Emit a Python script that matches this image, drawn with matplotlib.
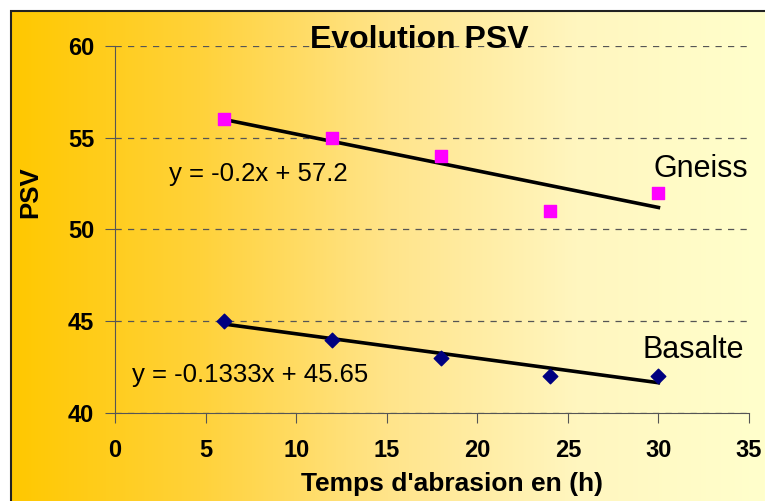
import numpy as np
import matplotlib
matplotlib.use("Agg")
import matplotlib.pyplot as plt
from matplotlib.colors import LinearSegmentedColormap
from matplotlib.patches import Rectangle

plt.rcParams['font.family'] = ['Liberation Sans', 'DejaVu Sans']

hours = [6, 12, 18, 24, 30]
gneiss = [56, 55, 54, 51, 52]
basalte = [45, 44, 43, 42, 42]
gneiss_fit = (-0.2, 57.2)
basalte_fit = (-0.1333, 45.65)

W, H = 765, 501
fig = plt.figure(figsize=(W / 100, H / 100), dpi=100)

# gradient background with frame
bg = fig.add_axes([11 / W, 0, 1 - 11 / W, 1 - 11 / H])
cmap = LinearSegmentedColormap.from_list("bg", ["#ffc800", "#ffd23a", "#ffe48a", "#fff6bf", "#ffffcc"])
bg.imshow(np.linspace(0, 1, 256).reshape(1, -1), aspect="auto", cmap=cmap, extent=[0, 1, 0, 1])
bg.set_axis_off()
fig.add_artist(Rectangle((11 / W, -0.01), 1, 1 - 11 / H + 0.01, transform=fig.transFigure,
                         fill=False, edgecolor="#222222", linewidth=1.5))

ax = fig.add_axes([115 / W, 1 - 413 / H, (749 - 115) / W, (413 - 46) / H])
ax.set_facecolor("none")
ax.set_xlim(0, 35)
ax.set_ylim(40, 60)
ax.set_xticks(range(0, 36, 5))
ax.set_yticks(range(40, 61, 5))
ax.grid(axis="y", linestyle=(0, (5, 5)), color="#555555", linewidth=0.9)
for s in ("top", "right"):
    ax.spines[s].set_visible(False)
for s in ("left", "bottom"):
    ax.spines[s].set_color("#555555")
ax.tick_params(direction="out", length=7, color="#555555", labelsize=17)
ax.tick_params(axis="x", pad=12)
ax.tick_params(axis="y", pad=8)
for lab in ax.get_xticklabels() + ax.get_yticklabels():
    lab.set_fontweight("bold")

xs = np.array([hours[0], hours[-1]])
ax.plot(xs, gneiss_fit[0] * xs + gneiss_fit[1], color="black", lw=2.6, zorder=3)
ax.plot(xs, basalte_fit[0] * xs + basalte_fit[1], color="black", lw=2.6, zorder=3)
ax.scatter(hours, gneiss, marker="s", s=75, color="#ff00ff", zorder=4)
ax.scatter(hours, basalte, marker="D", s=55, color="#000080", zorder=4)

ax.text(3.0, 53.0, "y = -0.2x + 57.2", fontsize=18.5, va="center")
ax.text(0.95, 42.07, "y = -0.1333x + 45.65", fontsize=18.5, va="center")
ax.text(29.75, 53.3, "Gneiss", fontsize=22, va="center")
ax.text(29.1, 43.45, "Basalte", fontsize=22, va="center")

fig.text(419 / W, 1 - 40 / H, "Evolution PSV", fontsize=23, fontweight="bold", ha="center", va="center")
fig.text(452 / W, 1 - 484 / H, "Temps d'abrasion en (h)", fontsize=19, fontweight="bold",
         ha="center", va="center")
fig.text(30 / W, 1 - 192 / H, "PSV", fontsize=18.5, fontweight="bold", rotation=90,
         ha="center", va="center")

fig.savefig("out.png", dpi=100)
